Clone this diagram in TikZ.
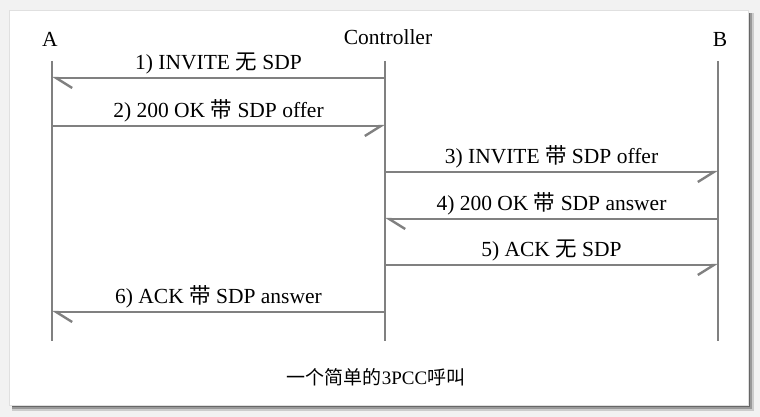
\documentclass[tikz,border=0pt]{standalone}
\usepackage{fontspec}
\setmainfont{Liberation Serif}
\newfontfamily\cjk{Noto Sans CJK SC}
\usetikzlibrary{arrows.meta}
\definecolor{wire}{HTML}{808080}
\definecolor{page}{HTML}{F2F2F2}
\newcommand{\zh}[1]{{\cjk #1}}

\begin{document}
\begin{tikzpicture}[x=1pt, y=-1pt, font=\fontsize{21.5}{24}\selectfont,
    actor/.style={inner sep=1pt, anchor=base},
    life/.style={wire, line width=2.4pt},
    msg/.style={wire, line width=2.4pt},
    toleft/.style={-{Straight Barb[left, length=16pt, width=20pt]}},
    toright/.style={-{Straight Barb[right, length=16pt, width=20pt]}},
    lbl/.style={above=1pt, text=black, inner sep=2pt}]

    % frame with shadow
    \useasboundingbox (0,0) rectangle (760,417);
    \fill[page] (0,0) rectangle (760,417);
    \fill[black!20] (12,13) rectangle (754,411);
    \fill[black!40] (12,13) rectangle (752,409);
    \fill[black!60] (12,13) rectangle (750,407);
    \fill[white, draw=black!12] (9,10) rectangle (748,405);

    % actors and lifelines
    \node[actor] (A) at (50,47)  {A};
    \node[actor] (C) at (388,45) {Controller};
    \node[actor] (B) at (720,47) {B};
    \foreach \n/\x in {a/52,c/385,b/718} {
      \coordinate (\n top) at (\x,61);
      \coordinate (\n bot) at (\x,341);
      \draw[life] (\n top) -- (\n bot);
    }

    % message end points
    \foreach \i/\y in {1/78,2/126,3/172,4/219,5/265,6/312} {
      \coordinate (a\i) at (52,\y);
      \coordinate (c\i) at (385,\y);
      \coordinate (b\i) at (718,\y);
    }

    \draw[msg, toleft]  (c1) -- node[lbl] {1) INVITE \zh{无} SDP} (a1);
    \draw[msg, toright] (a2) -- node[lbl] {2) 200 OK \zh{带} SDP offer} (c2);
    \draw[msg, toright] (c3) -- node[lbl] {3) INVITE \zh{带} SDP offer} (b3);
    \draw[msg, toleft]  (b4) -- node[lbl] {4) 200 OK \zh{带} SDP answer} (c4);
    \draw[msg, toright] (c5) -- node[lbl] {5) ACK \zh{无} SDP} (b5);
    \draw[msg, toleft]  (c6) -- node[lbl] {6) ACK \zh{带} SDP answer} (a6);

    \node[font=\fontsize{19}{22}\selectfont] (cap) at (376,377) {\zh{一个简单的}3PCC\zh{呼叫}};
  \end{tikzpicture}
\end{document}
